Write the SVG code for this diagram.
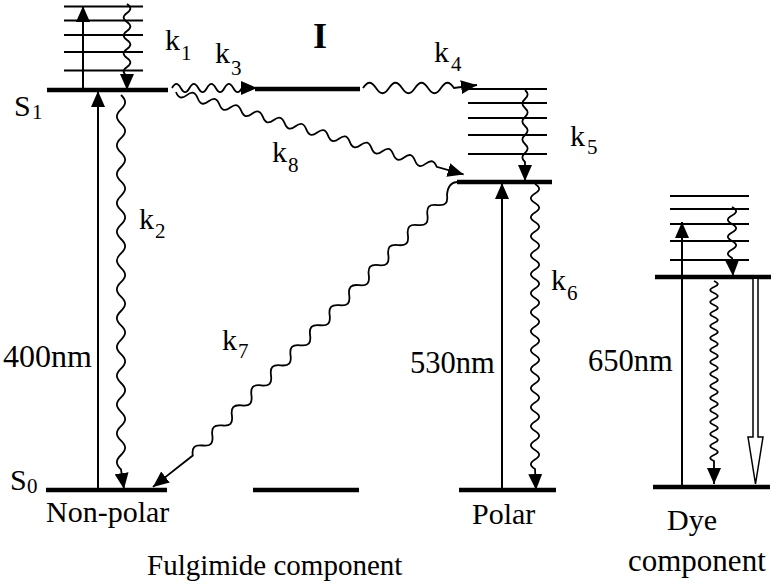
<svg xmlns="http://www.w3.org/2000/svg" width="775" height="583" viewBox="0 0 775 583">
<style>
.lvl{stroke:#000;stroke-width:4.5;fill:none}
.vib{stroke:#000;stroke-width:1.8;fill:none}
.arr{stroke:#000;stroke-width:2;fill:none;marker-end:url(#ah)}
.wav{stroke:#000;stroke-width:1.8;fill:none;marker-end:url(#ah)}
text{font-family:'Liberation Serif','DejaVu Serif','Noto Serif',serif;fill:#000}
.t{font-size:30px}
.s{font-size:21px}
</style>
<defs>
<marker id="ah" viewBox="0 0 16 14" refX="16" refY="7" markerWidth="16" markerHeight="14" markerUnits="userSpaceOnUse" orient="auto"><path d="M0 0 L16 7 L0 14 z" fill="#000"/></marker>
</defs>
<rect width="775" height="583" fill="#fff"/>

<g id="nonpolar" font-family="Liberation Serif, serif">
<path class="vib" d="M64 6.5H143M64 20.5H143M64 35H143M64 52H143M64 70.5H143"/>
<line class="lvl" x1="47" y1="90" x2="168" y2="90"/>
<line class="lvl" x1="46" y1="490" x2="167" y2="490"/>
<text class="t" x="14" y="116">S</text><text class="s" x="32" y="119">1</text>
<text class="t" x="10" y="490">S</text><text class="s" x="27" y="493">0</text>
<text class="t" x="46" y="522">Non-polar</text>
</g>

<g id="intermediate" font-family="Liberation Serif, serif">
<line class="lvl" x1="255" y1="89" x2="360" y2="89"/>
<line class="lvl" x1="253" y1="490" x2="359" y2="490"/>
<text x="313" y="48" font-size="36" font-weight="bold">I</text>
</g>

<g id="polar" font-family="Liberation Serif, serif">
<path class="vib" d="M468 89H547M468 103H547M468 118H547M468 135H547M468 154H547"/>
<line class="lvl" x1="457" y1="182" x2="552" y2="182"/>
<line class="lvl" x1="459" y1="490" x2="556" y2="490"/>
<text class="t" x="472" y="524">Polar</text>
</g>

<g id="dye" font-family="Liberation Serif, serif">
<path class="vib" d="M670 196H749M670 209H749M670 224H749M670 241H749M670 260H749"/>
<line class="lvl" x1="655" y1="277" x2="771" y2="277"/>
<line class="lvl" x1="653" y1="487" x2="770" y2="487"/>
<text class="t" x="692" y="530" text-anchor="middle">Dye</text>
<text x="628" y="571" font-size="31">component</text>
</g>

<g id="connectors">
<line class="arr" x1="83" y1="88" x2="83" y2="6"/>
<line class="arr" x1="98" y1="490" x2="98" y2="91"/>
<line class="arr" x1="502" y1="490" x2="502" y2="183"/>
<line class="arr" x1="682" y1="486" x2="682" y2="222"/>
<path class="wav" d="M127 4c4.5 3.2 4.5 5.8 0 9c-4.5 3.2 -4.5 5.8 0 9c4.5 3.2 4.5 5.8 0 9c-4.5 3.2 -4.5 5.8 0 9c4.5 3.2 4.5 5.8 0 9c-4.5 3.2 -4.5 5.8 0 9c4.5 3.2 4.5 5.8 0 9c-4.5 3.2 -4.5 5.8 0 9L127 90"/>
<path class="wav" d="M121 95c5.5 5.2 5.5 9.2 0 14.4c-5.5 5.2 -5.5 9.2 0 14.4c5.5 5.2 5.5 9.2 0 14.4c-5.5 5.2 -5.5 9.2 0 14.4c5.5 5.2 5.5 9.2 0 14.4c-5.5 5.2 -5.5 9.2 0 14.4c5.5 5.2 5.5 9.2 0 14.4c-5.5 5.2 -5.5 9.2 0 14.4c5.5 5.2 5.5 9.2 0 14.4c-5.5 5.2 -5.5 9.2 0 14.4c5.5 5.2 5.5 9.2 0 14.4c-5.5 5.2 -5.5 9.2 0 14.4c5.5 5.2 5.5 9.2 0 14.4c-5.5 5.2 -5.5 9.2 0 14.4c5.5 5.2 5.5 9.2 0 14.4c-5.5 5.2 -5.5 9.2 0 14.4c5.5 5.2 5.5 9.2 0 14.4c-5.5 5.2 -5.5 9.2 0 14.4c5.5 5.2 5.5 9.2 0 14.4c-5.5 5.2 -5.5 9.2 0 14.4c5.5 5.2 5.5 9.2 0 14.4c-5.5 5.2 -5.5 9.2 0 14.4c5.5 5.2 5.5 9.2 0 14.4c-5.5 5.2 -5.5 9.2 0 14.4c5.5 5.2 5.5 9.2 0 14.4c-5.5 5.2 -5.5 9.2 0 14.4L124 489"/>
<path class="wav" d="M172 88c3.15 -5.5 5.6 -5.5 8.75 0c3.15 5.5 5.6 5.5 8.75 0c3.15 -5.5 5.6 -5.5 8.75 0c3.15 5.5 5.6 5.5 8.75 0c3.15 -5.5 5.6 -5.5 8.75 0c3.15 5.5 5.6 5.5 8.75 0c3.15 -5.5 5.6 -5.5 8.75 0c3.15 5.5 5.6 5.5 8.75 0L257 88"/>
<path class="wav" d="M363 88c4.7 -7 8.3 -7 13 0c4.7 7 8.3 7 13 0c4.7 -7 8.3 -7 13 0c4.7 7 8.3 7 13 0c4.7 -7 8.3 -7 13 0c4.7 7 8.3 7 13 0c4.7 -7 8.3 -7 13 0L477 85"/>
<path class="wav" transform="translate(176 92) rotate(16)" d="M0 0c4.07 5.3 7.23 5.3 11.3 0c4.07 -5.3 7.23 -5.3 11.3 0c4.07 5.3 7.23 5.3 11.3 0c4.07 -5.3 7.23 -5.3 11.3 0c4.07 5.3 7.23 5.3 11.3 0c4.07 -5.3 7.23 -5.3 11.3 0c4.07 5.3 7.23 5.3 11.3 0c4.07 -5.3 7.23 -5.3 11.3 0c4.07 5.3 7.23 5.3 11.3 0c4.07 -5.3 7.23 -5.3 11.3 0c4.07 5.3 7.23 5.3 11.3 0c4.07 -5.3 7.23 -5.3 11.3 0c4.07 5.3 7.23 5.3 11.3 0c4.07 -5.3 7.23 -5.3 11.3 0c4.07 5.3 7.23 5.3 11.3 0c4.07 -5.3 7.23 -5.3 11.3 0c4.07 5.3 7.23 5.3 11.3 0c4.07 -5.3 7.23 -5.3 11.3 0c4.07 5.3 7.23 5.3 11.3 0c4.07 -5.3 7.23 -5.3 11.3 0c4.07 5.3 7.23 5.3 11.3 0c4.07 -5.3 7.23 -5.3 11.3 0c4.07 5.3 7.23 5.3 11.3 0c4.07 -5.3 7.23 -5.3 11.3 0l28 0"/>
<path class="wav" d="M525 90c3.5 3.2 3.5 5.8 0 9c-3.5 3.2 -3.5 5.8 0 9c3.5 3.2 3.5 5.8 0 9c-3.5 3.2 -3.5 5.8 0 9c3.5 3.2 3.5 5.8 0 9c-3.5 3.2 -3.5 5.8 0 9c3.5 3.2 3.5 5.8 0 9c-3.5 3.2 -3.5 5.8 0 9L525 181"/>
<path class="wav" d="M535 184c5.5 3.4 5.5 6.1 0 9.5c-5.5 3.4 -5.5 6.1 0 9.5c5.5 3.4 5.5 6.1 0 9.5c-5.5 3.4 -5.5 6.1 0 9.5c5.5 3.4 5.5 6.1 0 9.5c-5.5 3.4 -5.5 6.1 0 9.5c5.5 3.4 5.5 6.1 0 9.5c-5.5 3.4 -5.5 6.1 0 9.5c5.5 3.4 5.5 6.1 0 9.5c-5.5 3.4 -5.5 6.1 0 9.5c5.5 3.4 5.5 6.1 0 9.5c-5.5 3.4 -5.5 6.1 0 9.5c5.5 3.4 5.5 6.1 0 9.5c-5.5 3.4 -5.5 6.1 0 9.5c5.5 3.4 5.5 6.1 0 9.5c-5.5 3.4 -5.5 6.1 0 9.5c5.5 3.4 5.5 6.1 0 9.5c-5.5 3.4 -5.5 6.1 0 9.5c5.5 3.4 5.5 6.1 0 9.5c-5.5 3.4 -5.5 6.1 0 9.5c5.5 3.4 5.5 6.1 0 9.5c-5.5 3.4 -5.5 6.1 0 9.5c5.5 3.4 5.5 6.1 0 9.5c-5.5 3.4 -5.5 6.1 0 9.5c5.5 3.4 5.5 6.1 0 9.5c-5.5 3.4 -5.5 6.1 0 9.5c5.5 3.4 5.5 6.1 0 9.5c-5.5 3.4 -5.5 6.1 0 9.5c5.5 3.4 5.5 6.1 0 9.5c-5.5 3.4 -5.5 6.1 0 9.5L536 490"/>
<path class="wav" transform="translate(447 195) rotate(134.3)" d="M-17 1.2Q-10 8.4 0 0c5.04 -6.5 8.96 -6.5 14 0c5.04 6.5 8.96 6.5 14 0c5.04 -6.5 8.96 -6.5 14 0c5.04 6.5 8.96 6.5 14 0c5.04 -6.5 8.96 -6.5 14 0c5.04 6.5 8.96 6.5 14 0c5.04 -6.5 8.96 -6.5 14 0c5.04 6.5 8.96 6.5 14 0c5.04 -6.5 8.96 -6.5 14 0c5.04 6.5 8.96 6.5 14 0c5.04 -6.5 8.96 -6.5 14 0c5.04 6.5 8.96 6.5 14 0c5.04 -6.5 8.96 -6.5 14 0c5.04 6.5 8.96 6.5 14 0c5.04 -6.5 8.96 -6.5 14 0c5.04 6.5 8.96 6.5 14 0c5.04 -6.5 8.96 -6.5 14 0c5.04 6.5 8.96 6.5 14 0c5.04 -6.5 8.96 -6.5 14 0c5.04 6.5 8.96 6.5 14 0c5.04 -6.5 8.96 -6.5 14 0c5.04 6.5 8.96 6.5 14 0c5.04 -6.5 8.96 -6.5 14 0c5.04 6.5 8.96 6.5 14 0c5.04 -6.5 8.96 -6.5 14 0c5.04 6.5 8.96 6.5 14 0l50.3 6.6"/>
<path class="wav" d="M732 207c5.5 3.1 5.5 5.4 0 8.5c-5.5 3.1 -5.5 5.4 0 8.5c5.5 3.1 5.5 5.4 0 8.5c-5.5 3.1 -5.5 5.4 0 8.5c5.5 3.1 5.5 5.4 0 8.5c-5.5 3.1 -5.5 5.4 0 8.5L733 276"/>
<path class="wav" d="M714 281c5 2.2 5 3.8 0 6c-5 2.2 -5 3.8 0 6c5 2.2 5 3.8 0 6c-5 2.2 -5 3.8 0 6c5 2.2 5 3.8 0 6c-5 2.2 -5 3.8 0 6c5 2.2 5 3.8 0 6c-5 2.2 -5 3.8 0 6c5 2.2 5 3.8 0 6c-5 2.2 -5 3.8 0 6c5 2.2 5 3.8 0 6c-5 2.2 -5 3.8 0 6c5 2.2 5 3.8 0 6c-5 2.2 -5 3.8 0 6c5 2.2 5 3.8 0 6c-5 2.2 -5 3.8 0 6c5 2.2 5 3.8 0 6c-5 2.2 -5 3.8 0 6c5 2.2 5 3.8 0 6c-5 2.2 -5 3.8 0 6c5 2.2 5 3.8 0 6c-5 2.2 -5 3.8 0 6c5 2.2 5 3.8 0 6c-5 2.2 -5 3.8 0 6c5 2.2 5 3.8 0 6c-5 2.2 -5 3.8 0 6c5 2.2 5 3.8 0 6c-5 2.2 -5 3.8 0 6c5 2.2 5 3.8 0 6c-5 2.2 -5 3.8 0 6L714 484"/>
<path d="M753 279V437H748L755.5 484L763 437H758V279" fill="#fff" stroke="#000" stroke-width="1.5"/>
</g>

<g id="labels" font-family="Liberation Serif, serif">
<text class="t" x="165" y="50">k</text><text class="s" x="181" y="60">1</text>
<text class="t" x="139" y="229">k</text><text class="s" x="155" y="238">2</text>
<text class="t" x="215" y="63">k</text><text class="s" x="231" y="75">3</text>
<text class="t" x="434" y="62">k</text><text class="s" x="451" y="71">4</text>
<text class="t" x="570" y="146">k</text><text class="s" x="587" y="154">5</text>
<text class="t" x="551" y="290">k</text><text class="s" x="567" y="300">6</text>
<text class="t" x="222" y="350">k</text><text class="s" x="238" y="358">7</text>
<text class="t" x="272" y="162">k</text><text class="s" x="288" y="172">8</text>
<text x="3" y="367" font-size="32">400nm</text>
<text x="410" y="373" font-size="30.5">530nm</text>
<text x="588" y="371" font-size="30.5">650nm</text>
<text x="147" y="575" font-size="29">Fulgimide component</text>
</g>
</svg>
